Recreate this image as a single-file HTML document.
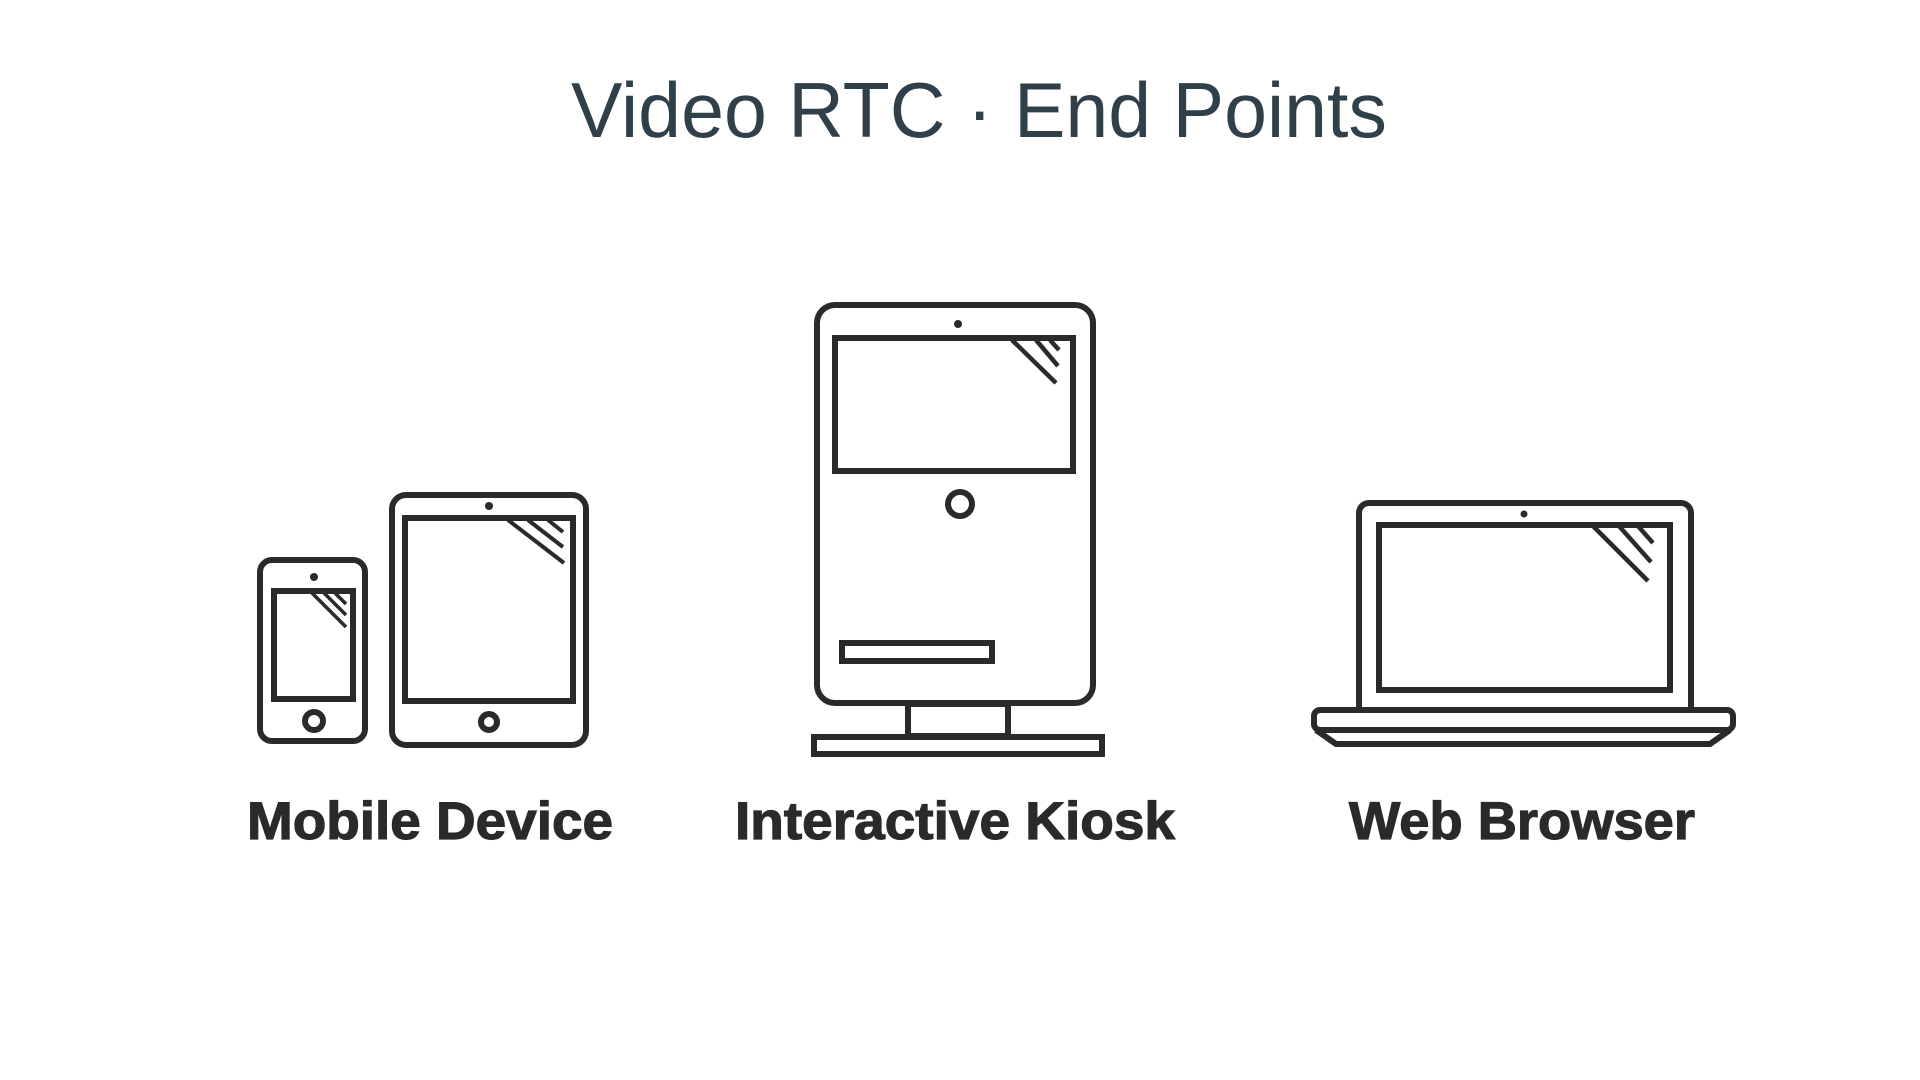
<!DOCTYPE html>
<html><head><meta charset="utf-8"><style>
html,body{margin:0;padding:0;background:#fff;}
svg{display:block;}
</style></head><body>
<svg width="1920" height="1080" viewBox="0 0 1920 1080" xmlns="http://www.w3.org/2000/svg">
<rect width="1920" height="1080" fill="#fff"/>
<text x="571" y="137" font-family="Liberation Sans, sans-serif" font-size="78" fill="#2f404b" textLength="816" lengthAdjust="spacingAndGlyphs">Video RTC · End Points</text>

<g fill="none" stroke="#2b2a2a" stroke-width="6">
<!-- phone -->
<rect x="260" y="560" width="105" height="181" rx="12"/>
<rect x="274" y="591" width="79" height="108"/>
<circle cx="314" cy="721" r="9"/>
<g stroke-width="3.5"><line x1="312" y1="593" x2="346" y2="627"/><line x1="324" y1="593" x2="346" y2="615"/><line x1="335" y1="593" x2="346" y2="604"/></g>
<!-- tablet -->
<rect x="392" y="495" width="194" height="250" rx="14"/>
<rect x="405" y="518" width="168" height="183"/>
<circle cx="489" cy="722" r="8"/>
<g stroke-width="4"><line x1="508" y1="520" x2="564" y2="563"/><line x1="528" y1="520" x2="563" y2="547"/><line x1="548" y1="520" x2="563" y2="532"/></g>
<!-- kiosk -->
<rect x="817" y="305" width="276" height="398" rx="18"/>
<rect x="835" y="338" width="238" height="133"/>
<circle cx="960" cy="504" r="12"/>
<rect x="842" y="643" width="150" height="18"/>
<rect x="908" y="704" width="100" height="32"/>
<rect x="814" y="737" width="288" height="17"/>
<g stroke-width="4.5"><line x1="1012" y1="340" x2="1056" y2="383"/><line x1="1036" y1="340" x2="1058" y2="366"/><line x1="1050" y1="340" x2="1059" y2="350"/></g>
<!-- laptop -->
<path d="M1359 707 V513 a10 10 0 0 1 10 -10 H1681 a10 10 0 0 1 10 10 V707"/>
<rect x="1379" y="525" width="291" height="165"/>
<rect x="1314" y="710" width="419" height="20" rx="6"/>
<path d="M1316 730 L1336 744 H1710 L1730 730"/>
<g stroke-width="4.5"><line x1="1593" y1="526" x2="1648" y2="581"/><line x1="1619" y1="526" x2="1651" y2="562"/><line x1="1638" y1="526" x2="1653" y2="543"/></g>
</g>
<g fill="#2b2a2a">
<circle cx="314" cy="577" r="4"/>
<circle cx="489" cy="506" r="4"/>
<circle cx="958" cy="324" r="4"/>
<circle cx="1524" cy="514" r="3.5"/>
</g>

<g font-family="Liberation Sans, sans-serif" font-weight="bold" font-size="53" fill="#2b2a2a" stroke="#2b2a2a" stroke-width="1.2">
<text x="247" y="839" textLength="366" lengthAdjust="spacingAndGlyphs">Mobile Device</text>
<text x="735" y="839" textLength="440" lengthAdjust="spacingAndGlyphs">Interactive Kiosk</text>
<text x="1349" y="839" textLength="346" lengthAdjust="spacingAndGlyphs">Web Browser</text>
</g>
</svg>
</body></html>
